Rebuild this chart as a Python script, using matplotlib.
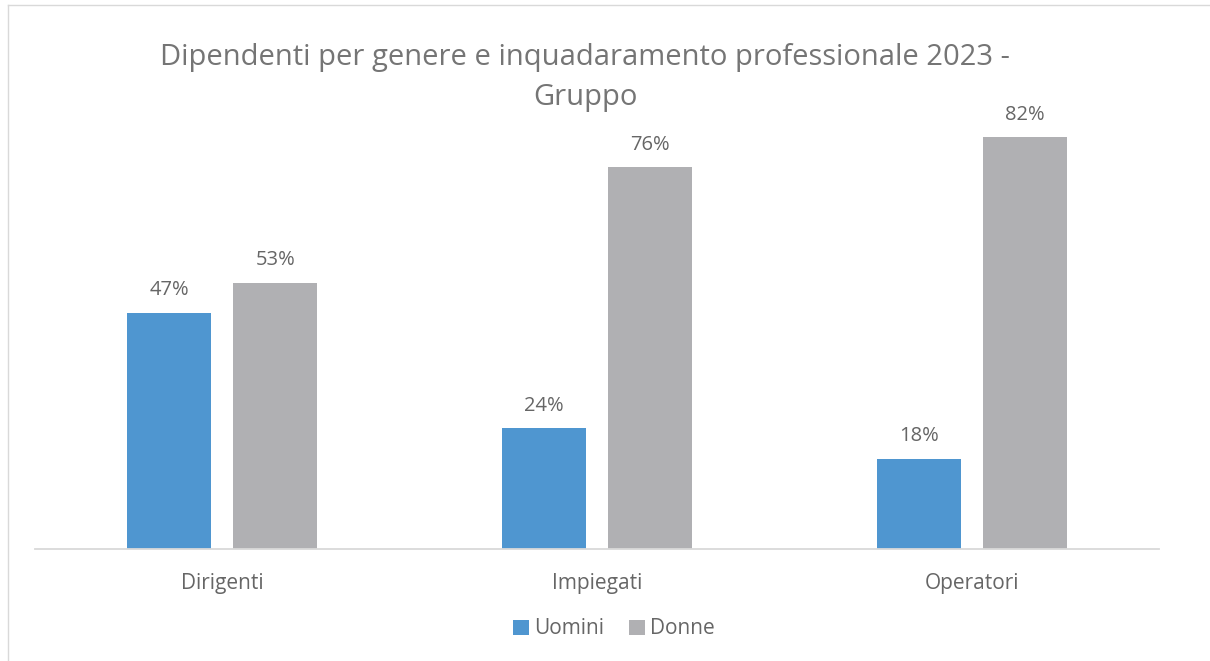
import matplotlib
matplotlib.use("Agg")
import matplotlib.pyplot as plt
import numpy as np

categories = ["Dirigenti", "Impiegati", "Operatori"]
uomini = [0.47, 0.24, 0.18]
donne = [0.53, 0.76, 0.82]
series_names = ["Uomini", "Donne"]
title = "Dipendenti per genere e inquadaramento professionale 2023 -\nGruppo"

plt.rcParams['font.family'] = ['Open Sans', 'DejaVu Sans']
blue = "#4F96D0"
grey = "#B0B0B3"
txt = "#666666"

fig = plt.figure(figsize=(12.10, 6.61), dpi=100)
ax = fig.add_axes([35/1210, 112/661, 1124/1210, 452/661])
x = np.arange(len(categories))
w = 0.224
off = 0.1415
b1 = ax.bar(x - off, uomini, w, color=blue, label=series_names[0], zorder=2)
b2 = ax.bar(x + off, donne, w, color=grey, label=series_names[1], zorder=2)
for bars, vals in ((b1, uomini), (b2, donne)):
    for r, v in zip(bars, vals):
        ax.annotate(f"{round(v*100)}%", (r.get_x() + r.get_width()/2, v),
                    xytext=(0, 16.2), textcoords="offset points",
                    ha="center", va="center", fontsize=14.5, color=txt)
ax.set_xlim(-0.5, 2.5)
ax.set_ylim(0, 0.9)
ax.set_xticks(x)
ax.set_xticklabels(categories, fontsize=15, color=txt)
ax.tick_params(axis='x', length=0, pad=17)
ax.set_yticks([])
for s in ("top", "right", "left"):
    ax.spines[s].set_visible(False)
ax.spines["bottom"].set_color("#D9D9D9")
ax.spines["bottom"].set_linewidth(1.3)

fig.text(585/1210, 1 - 77.5/661, title, ha="center", va="center",
         fontsize=21, color="#757575", linespacing=1.5)

leg = fig.legend(handles=[b1, b2], labels=series_names, loc="center",
                 bbox_to_anchor=(614/1210, 1 - 629/661), ncol=2, frameon=False,
                 fontsize=15, handlelength=0.75, handleheight=0.75,
                 handletextpad=0.25, columnspacing=1.2)
for t in leg.get_texts():
    t.set_color(txt)

# chart border (left / top)
fig.add_artist(plt.Line2D([8/1210, 8/1210], [0, 1 - 5/661], transform=fig.transFigure, color="#D9D9D9", lw=1))
fig.add_artist(plt.Line2D([8/1210, 1], [1 - 5/661, 1 - 5/661], transform=fig.transFigure, color="#D9D9D9", lw=1))

fig.savefig("out.png", dpi=100)
